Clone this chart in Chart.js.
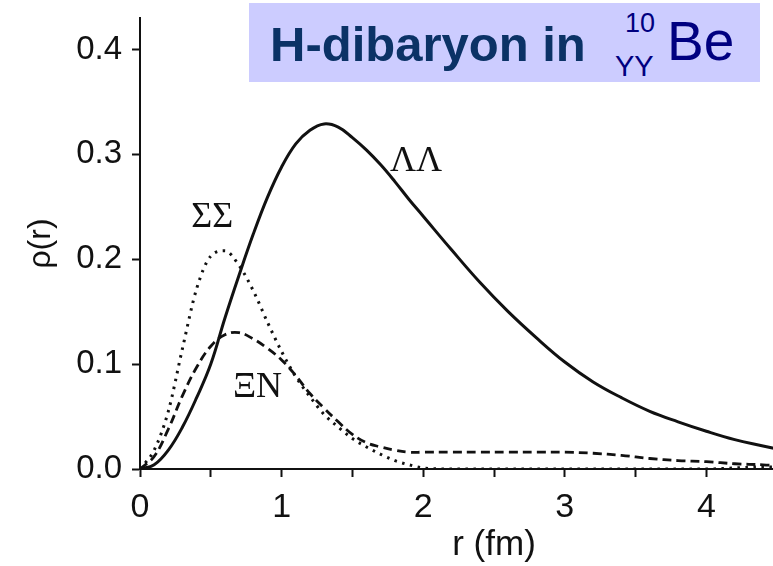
<!DOCTYPE html>
<html>
<head>
<meta charset="utf-8">
<script src="https://cdn.jsdelivr.net/npm/chart.js@4"></script>
<style>
  html, body { margin: 0; padding: 0; background: #fff; overflow: hidden; width: 773px; height: 566px; }
  #wrap { position: relative; width: 860px; height: 566px; }
  #tbox { position: absolute; left: 249px; top: 3px; width: 511px; height: 79px; background: #ccccff; }
  #tbox span { position: absolute; white-space: nowrap; line-height: 1; font-family: "Liberation Sans", Arial, sans-serif; }
  .h { left: 21px; top: 17px; font-size: 49px; font-weight: bold; color: #0b3266; }
  .sup { left: 376px; top: 7px; font-size: 27px; color: #000080; }
  .sub { left: 366px; top: 49px; font-size: 29px; color: #000080; }
  .be { left: 418px; top: 11px; font-size: 55px; color: #000080; }
</style>
</head>
<body>
<div id="wrap">
  <canvas id="rho" width="860" height="566"></canvas>
  <div id="tbox"><span class="h">H-dibaryon in</span><span class="sup">10</span><span class="sub">YY</span><span class="be">Be</span></div>
</div>
<script>
// r (fm) sample points
var rValues = [0, 0.1, 0.2, 0.3, 0.4, 0.5, 0.6, 0.7, 0.8, 0.9, 1.0, 1.1, 1.2, 1.3, 1.4, 1.5, 1.6, 1.7, 1.8, 1.9, 2.0,
               2.2, 2.4, 2.6, 2.8, 3.0, 3.2, 3.4, 3.6, 3.8, 4.0, 4.2, 4.4, 4.5];
// ΛΛ (solid)
var rhoLL = [0, 0.004, 0.018, 0.040, 0.068, 0.100, 0.144, 0.185, 0.224, 0.259, 0.288, 0.310, 0.323, 0.329, 0.326, 0.316, 0.304, 0.290, 0.274, 0.257, 0.241,
             0.209, 0.178, 0.150, 0.125, 0.102, 0.083, 0.068, 0.055, 0.045, 0.036, 0.028, 0.022, 0.019];
// ΣΣ (dotted)
var rhoSS = [0, 0.018, 0.055, 0.115, 0.172, 0.203, 0.208, 0.194, 0.170, 0.140, 0.112, 0.088, 0.069, 0.052, 0.040, 0.029, 0.021, 0.014, 0.008, 0.004, 0.001,
             0, 0, 0, 0, 0, 0, 0, 0, 0, 0, 0.001, 0.002, 0.002];
// ΞN (dashed)
var rhoXN = [0, 0.012, 0.038, 0.070, 0.097, 0.117, 0.128, 0.130, 0.124, 0.115, 0.104, 0.089, 0.072, 0.058, 0.045, 0.033, 0.025, 0.021, 0.018, 0.016, 0.016,
             0.016, 0.016, 0.016, 0.016, 0.016, 0.015, 0.013, 0.010, 0.008, 0.007, 0.005, 0.004, 0.003];

var curveLabels = ["ΣΣ", "ΞN", "ΛΛ"];
var curveLabelR = [0.51, 0.83, 1.95];
var curveLabelRho = [0.240, 0.078, 0.293];

function pts(ys) {
  var out = [];
  for (var i = 0; i < rValues.length; i++) out.push({ x: rValues[i], y: ys[i] });
  return out;
}

var curveText = {
  id: "curveText",
  afterDatasetsDraw: function(chart) {
    var ctx = chart.ctx, sx = chart.scales.x, sy = chart.scales.y;
    ctx.save();
    ctx.font = '36px "Liberation Serif", "DejaVu Serif", serif';
    ctx.fillStyle = "#111";
    ctx.textAlign = "center";
    ctx.textBaseline = "middle";
    for (var i = 0; i < curveLabels.length; i++) {
      ctx.fillText(curveLabels[i], sx.getPixelForValue(curveLabelR[i]), sy.getPixelForValue(curveLabelRho[i]));
    }
    ctx.restore();
  }
};

var ink = "#111";
new Chart(document.getElementById("rho"), {
  type: "line",
  data: {
    datasets: [
      { label: "ΛΛ", data: pts(rhoLL), borderColor: ink, borderWidth: 3, pointRadius: 0, tension: 0.4 },
      { label: "ΣΣ", data: pts(rhoSS), borderColor: ink, borderWidth: 3, borderDash: [2.5, 5.5], pointRadius: 0, cubicInterpolationMode: "monotone" },
      { label: "ΞN", data: pts(rhoXN), borderColor: ink, borderWidth: 2.8, borderDash: [9, 5], pointRadius: 0, tension: 0.4 }
    ]
  },
  options: {
    responsive: false,
    animation: false,
    layout: { padding: { top: 18, right: 12, left: 0, bottom: 0 } },
    plugins: { legend: { display: false }, tooltip: { enabled: false } },
    scales: {
      x: {
        type: "linear", min: 0, max: 5,
        afterFit: function(s) { s.height = 97; s.paddingLeft = 0; s.paddingRight = 0; },
        border: { color: ink, width: 2 },
        grid: { drawOnChartArea: false, drawTicks: true, tickLength: 8, color: ink, tickWidth: 2 },
        ticks: {
          stepSize: 0.5, includeBounds: false, autoSkip: false, maxRotation: 0,
          color: ink, padding: 10, font: { family: "Liberation Sans", size: 34 },
          callback: function(v) { return (Number.isInteger(v) && v < 5) ? String(v) : ""; }
        },
        title: { display: true, text: "r (fm)", color: ink, font: { family: "Liberation Sans", size: 35 }, padding: { top: 0, bottom: 0 } }
      },
      y: {
        min: 0, max: 0.43,
        afterFit: function(s) { s.width = 140; s.paddingTop = 0; s.paddingBottom = 0; },
        border: { color: ink, width: 2 },
        grid: { drawOnChartArea: false, drawTicks: true, tickLength: 8, color: ink, tickWidth: 2 },
        ticks: {
          stepSize: 0.1, includeBounds: false, color: ink, padding: 10,
          font: { family: "Liberation Sans", size: 33 },
          callback: function(v) { return v.toFixed(1); }
        },
        title: { display: true, text: "ρ(r)", color: ink, font: { family: "Liberation Sans", size: 32 }, padding: { top: 22, bottom: 0 } }
      }
    }
  },
  plugins: [curveText]
});
</script>
</body>
</html>
